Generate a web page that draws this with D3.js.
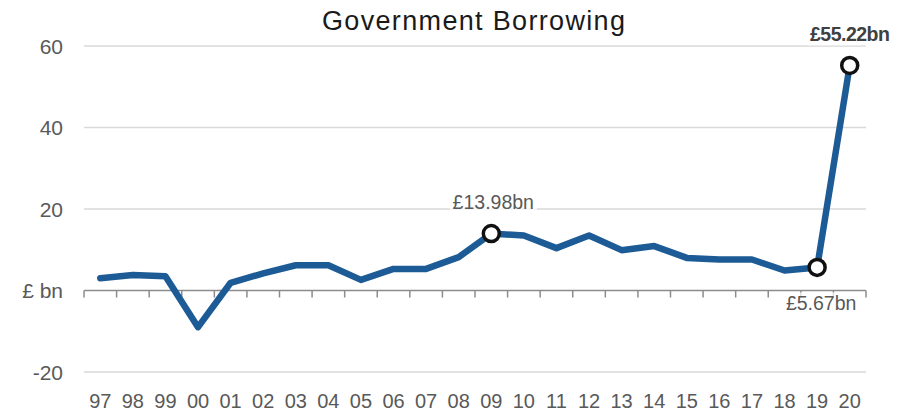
<!DOCTYPE html>
<html>
<head>
<meta charset="utf-8">
<script src="https://cdn.jsdelivr.net/npm/d3@7"></script>
<style>
  body { margin: 0; background: #fff; }
  svg { display: block; font-family: "Liberation Sans", Arial, sans-serif; }
</style>
</head>
<body>
<div id="chart"></div>
<script>
// Government borrowing, £bn, by year
var years = ["97","98","99","00","01","02","03","04","05","06","07","08",
             "09","10","11","12","13","14","15","16","17","18","19","20"];
var borrowing = [3.0, 3.8, 3.5, -9.0, 1.9, 4.2, 6.2, 6.2, 2.6, 5.3, 5.3, 8.2,
                 13.98, 13.5, 10.4, 13.5, 9.9, 10.9, 8.0, 7.6, 7.6, 4.9, 5.67, 55.22];
var yTicks = [-20, 0, 20, 40, 60];
var calloutYears = ["09", "19", "20"];
var calloutText = ["£13.98bn", "£5.67bn", "£55.22bn"];

var svgWidth = 912, svgHeight = 414;
var plotLeft = 84, plotRight = 866, plotTop = 46, plotBottom = 372;

var svg = d3.select("#chart").append("svg")
  .attr("width", svgWidth)
  .attr("height", svgHeight);

var x = d3.scaleBand().domain(years).range([plotLeft, plotRight]).padding(0);
var y = d3.scaleLinear().domain([-20, 60]).range([plotBottom, plotTop]);

// title
svg.append("text")
  .attr("x", 473.5)
  .attr("y", 30)
  .attr("text-anchor", "middle")
  .attr("font-size", "27px")
  .attr("fill", "#1a1a1a")
  .attr("textLength", 303)
  .attr("lengthAdjust", "spacing")
  .text("Government Borrowing");

// gridlines (not at zero)
svg.append("g")
  .selectAll("line")
  .data(yTicks.filter(d => d !== 0))
  .enter()
  .append("line")
  .attr("x1", plotLeft)
  .attr("x2", plotRight)
  .attr("y1", d => y(d))
  .attr("y2", d => y(d))
  .attr("stroke", "#d9d9d9")
  .attr("stroke-width", 1.5);

// y labels
svg.append("g")
  .selectAll("text")
  .data(yTicks)
  .enter()
  .append("text")
  .attr("x", 63)
  .attr("y", d => y(d))
  .attr("dy", "0.36em")
  .attr("text-anchor", "end")
  .attr("font-size", "21px")
  .attr("fill", "#595959")
  .text(d => d === 0 ? "£ bn" : d);

// x axis at zero, ticks between categories
var xAxis = d3.axisBottom(x).tickSize(0).tickFormat("");
var axisG = svg.append("g")
  .attr("transform", `translate(0, ${y(0)})`)
  .call(xAxis);
axisG.select(".domain").remove();
axisG.append("line")
  .attr("x1", plotLeft).attr("x2", plotRight)
  .attr("stroke", "#8c8c8c").attr("stroke-width", 1.5);
axisG.selectAll(".boundary")
  .data(years.concat(["end"]))
  .enter()
  .append("line")
  .attr("class", "boundary")
  .attr("x1", (d, i) => i < years.length ? x(d) : plotRight)
  .attr("x2", (d, i) => i < years.length ? x(d) : plotRight)
  .attr("y1", 0)
  .attr("y2", 7)
  .attr("stroke", "#8c8c8c")
  .attr("stroke-width", 1.5);

// x labels at the bottom
svg.append("g")
  .selectAll("text")
  .data(years)
  .enter()
  .append("text")
  .attr("x", d => x(d) + x.bandwidth() / 2)
  .attr("y", 408)
  .attr("text-anchor", "middle")
  .attr("font-size", "20px")
  .attr("fill", "#595959")
  .text(d => d);

// line
var line = d3.line()
  .x((d, i) => x(years[i]) + x.bandwidth() / 2)
  .y(d => y(d));

svg.append("path")
  .datum(borrowing)
  .attr("d", line)
  .attr("fill", "none")
  .attr("stroke", "#1c5b95")
  .attr("stroke-width", 6.5)
  .attr("stroke-linejoin", "round")
  .attr("stroke-linecap", "round");

// callout labels
var labelOffsets = { "09": [2, -25], "19": [4, 43], "20": [0, -24] };
calloutYears.forEach((yr, k) => {
  var i = years.indexOf(yr);
  var cx = x(yr) + x.bandwidth() / 2;
  var cy = y(borrowing[i]);
  var bold = yr === "20";
  var g = svg.append("g");
  var t = g.append("text")
    .attr("x", cx + labelOffsets[yr][0])
    .attr("y", cy + labelOffsets[yr][1])
    .attr("text-anchor", "middle")
    .attr("font-size", "19.5px")
    .attr("font-weight", bold ? "700" : "400")
    .attr("letter-spacing", bold ? "-0.5px" : "0px")
    .attr("fill", bold ? "#404040" : "#595959")
    .text(calloutText[k]);
  var bb = t.node().getBBox();
  g.insert("rect", "text")
    .attr("x", bb.x - 3).attr("y", bb.y)
    .attr("width", bb.width + 6).attr("height", bb.height)
    .attr("fill", "#fff").attr("opacity", 0.7);
});

// markers
svg.append("g")
  .selectAll("circle")
  .data(calloutYears)
  .enter()
  .append("circle")
  .attr("cx", d => x(d) + x.bandwidth() / 2)
  .attr("cy", d => y(borrowing[years.indexOf(d)]))
  .attr("r", 8)
  .attr("fill", "#fff")
  .attr("stroke", "#111")
  .attr("stroke-width", 3.5);
</script>
</body>
</html>
